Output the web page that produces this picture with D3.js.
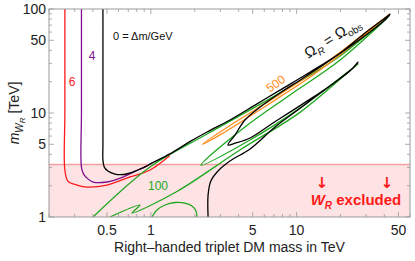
<!DOCTYPE html>
<html><head><meta charset="utf-8">
<script src="https://cdn.jsdelivr.net/npm/d3@7"></script>
<style>body{margin:0;background:#fff}svg{display:block}</style>
</head><body><svg id="c" width="415" height="261"></svg>
<script>
// ---- data (M in TeV, m_WR in TeV) ----
const xDomain = [0.2, 60];
const yDomain = [1, 100];
const xTickLabels = [0.5, 1, 5, 10, 50];
const yTickLabels = [1, 5, 10, 50, 100];
const wrLimit = 3.2;

const curveDm0 = [[0.469,100],[0.469,20],[0.469,5],[0.469,3.53],[0.48,3.0],[0.51,2.75],[0.56,2.6],[0.62,2.55],[0.70,2.62],[0.80,2.8],[0.92,3.05],[1.02,3.31],[1.35,4.04],[1.85,5.3],[2.43,6.57],[3.49,8.57],[5.18,11.9],[7.69,16.6],[12.4,24.8],[19.9,37.8],[29.5,58.8],[40.4,81.9],[43.7,89.5],
  [41.1,80.1],[31.9,60.1],[21.5,40.3],[14.5,27.7],[10.6,20.8],[7.69,15.6],[5.61,11.4],[4.42,8.57],[3.78,6.14],[3.38,4.92],
  [3.84,5.15],[4.79,5.75],[6.57,7.67],[9.01,10.2],[12.4,13.6],[16.9,18.2],[23.2,25.3],[26.4,30.9],
  [24.8,27.7],[18.4,19.9],[13.4,14.3],[9.75,10.2],[7.11,7.33],[4.79,4.51],[3.49,3.45],[2.89,2.77],[2.58,2.22],[2.47,1.63],[2.47,1]];
const curveDm4 = [[0.334,100],[0.334,10],[0.334,3.0],[0.345,2.6],[0.364,2.37],[0.401,2.17],[0.50,2.17],[0.644,2.42],[0.80,2.8],[0.92,3.05],[1.02,3.31]];
const curveDm6 = [[0.257,100],[0.257,10],[0.257,2.83],[0.270,2.2],[0.311,2.03],[0.364,1.94],[0.50,2.03],[0.685,2.37],[0.986,2.83],[1.35,3.9]];
const curveDm500 = [[43.7,89.5],[30,60],[20,38.5],[12.4,23.6],[7.69,15.2],[5,10.4],[3.6,7.8],[2.25,5.0],[3.0,6.2],[4.6,9.0],[7.69,14.3],[12.4,22.2],[20,36.5],[30,58],[43.7,89.5]];
const curveDm100a = [[0.401,1],[0.986,3.03],[2.43,6.28],[7.69,15.6],[19.9,35.3],[43.7,87.5],[19.9,32.3],[9.01,14.9],[4.42,7.33],[2.21,3.16],[4.79,5.5],[10.6,11.2],[26.4,29.6],[25.3,28.3],[10.6,10.2],[4.08,4.41],[1.5,1.75],[0.742,1.093],[0.842,1.304],[0.524,1]];
const curveDm100b = [[1.017,1],[1.101,1.168],[1.25,1.304],[1.462,1.379],[1.714,1.363],[1.915,1.276],[2.04,1.142],[2.07,1]];

// ---- layout ----
const svg = d3.select('#c');
const W = 415, H = 261;
const x = d3.scaleLog().domain(xDomain).range([49, 410]);
const y = d3.scaleLog().domain(yDomain).range([217, 9]);
const font = '"Liberation Sans", Arial, sans-serif';

svg.append('rect').attr('width', W).attr('height', H).attr('fill', '#fff');

// excluded band
svg.append('rect').attr('x', x(xDomain[0])).attr('y', y(wrLimit))
  .attr('width', x(xDomain[1]) - x(xDomain[0])).attr('height', y(1) - y(wrLimit))
  .attr('fill', '#fde3e3');
svg.append('line').attr('x1', x(xDomain[0])).attr('x2', x(xDomain[1]))
  .attr('y1', y(wrLimit)).attr('y2', y(wrLimit)).attr('stroke', '#f7a0a0').attr('stroke-width', 1.6);

svg.append('clipPath').attr('id', 'pc').append('rect')
  .attr('x', x(xDomain[0])).attr('y', y(yDomain[1]))
  .attr('width', x(xDomain[1]) - x(xDomain[0])).attr('height', y(yDomain[0]) - y(yDomain[1]));

const line = d3.line().x(d => x(d[0])).y(d => y(d[1])).curve(d3.curveCatmullRom.alpha(0.5));
const g = svg.append('g').attr('clip-path', 'url(#pc)');
function draw(data, color, w) {
  g.append('path').datum(data).attr('d', line).attr('fill', 'none')
    .attr('stroke', color).attr('stroke-width', w || 1.3).attr('stroke-linejoin', 'round');
}
draw(curveDm6, '#ff1a1a');
draw(curveDm4, '#7f0f8f');
draw(curveDm100a, '#1fa81f');
draw(curveDm100b, '#1fa81f');
draw(curveDm500, '#ff8c1a');
draw(curveDm0, '#000');

// frame + ticks
const frameColor = '#999';
svg.append('rect').attr('x', x(xDomain[0])).attr('y', y(yDomain[1]))
  .attr('width', x(xDomain[1]) - x(xDomain[0])).attr('height', y(yDomain[0]) - y(yDomain[1]))
  .attr('fill', 'none').attr('stroke', frameColor).attr('stroke-width', 1);

function logTicks(dom) {
  const out = [];
  for (let e = -1; e <= 2; e++) for (let k = 1; k <= 9; k++) {
    const v = +(k * Math.pow(10, e)).toPrecision(3);
    if (v >= dom[0] * 0.999 && v <= dom[1] * 1.001) out.push(v);
  }
  return out;
}
const tg = svg.append('g').attr('stroke', frameColor).attr('stroke-width', 0.8);
logTicks(xDomain).forEach(v => {
  const major = xTickLabels.includes(v);
  const L = major ? 5 : 3;
  const px = x(v);
  tg.append('line').attr('x1', px).attr('x2', px).attr('y1', y(1)).attr('y2', y(1) - L);
  tg.append('line').attr('x1', px).attr('x2', px).attr('y1', y(100)).attr('y2', y(100) + L);
});
logTicks(yDomain).forEach(v => {
  const major = yTickLabels.includes(v);
  const L = major ? 5 : 3;
  const py = y(v);
  tg.append('line').attr('y1', py).attr('y2', py).attr('x1', x(xDomain[0])).attr('x2', x(xDomain[0]) + L);
  tg.append('line').attr('y1', py).attr('y2', py).attr('x1', x(xDomain[1])).attr('x2', x(xDomain[1]) - L);
});
xTickLabels.forEach(v => {
  svg.append('text').attr('x', x(v)).attr('y', y(1) + 18).attr('text-anchor', 'middle')
    .attr('font-family', font).attr('font-size', 14).attr('fill', '#222').text(v);
});
yTickLabels.forEach(v => {
  svg.append('text').attr('x', x(xDomain[0]) - 3).attr('y', y(v) + 5).attr('text-anchor', 'end')
    .attr('font-family', font).attr('font-size', 14).attr('fill', '#222').text(v);
});

// axis titles
svg.append('text').attr('x', (x(xDomain[0]) + x(xDomain[1])) / 2).attr('y', 252)
  .attr('text-anchor', 'middle').attr('font-family', font).attr('font-size', 14).attr('fill', '#222')
  .text('Right\u2013handed triplet DM mass in TeV');
const yl = svg.append('text').attr('transform', `translate(19,${(y(1) + y(100)) / 2}) rotate(-90)`)
  .attr('text-anchor', 'middle').attr('font-family', font).attr('font-size', 14).attr('fill', '#222');
yl.append('tspan').attr('font-style', 'italic').text('m');
yl.append('tspan').attr('font-style', 'italic').attr('font-size', 10).attr('dy', 4).text('W');
yl.append('tspan').attr('font-style', 'italic').attr('font-size', 8).attr('dy', 2).text('R');
yl.append('tspan').attr('dy', -6).text(' [TeV]');

// annotations
function txt(px, py, s, color, size, opts) {
  opts = opts || {};
  const t = svg.append('text').attr('x', px).attr('y', py).attr('font-family', opts.family || font)
    .attr('font-size', size).attr('fill', color).attr('text-anchor', opts.anchor || 'middle');
  if (opts.rot) t.attr('transform', `rotate(${opts.rot},${px},${py})`);
  if (opts.bold) t.attr('font-weight', 'bold');
  return t.text(s);
}
txt(113, 40, '0 = \u0394m/GeV', '#111', 11, {anchor: 'start'});
txt(72, 86, '6', '#ff1a1a', 12);
txt(92, 60, '4', '#7f0f8f', 12);
txt(158, 190, '100', '#1fa81f', 12);
txt(278, 87, '500', '#ff8c1a', 12, {rot: -35});
const om = svg.append('text').attr('transform', 'translate(335,42) rotate(-32)')
  .attr('text-anchor', 'middle').attr('font-family', font).attr('font-size', 15).attr('fill', '#111');
om.append('tspan').text('\u03A9');
om.append('tspan').attr('font-style', 'italic').attr('font-size', 10).attr('dy', 4).text('R');
om.append('tspan').attr('dy', -4).text(' = \u03A9');
om.append('tspan').attr('font-size', 10).attr('dy', 4).text('obs');

txt(322, 188, '\u2193', '#ff1a1a', 15, {bold: true, family: '"DejaVu Sans", sans-serif'});
txt(387, 188, '\u2193', '#ff1a1a', 15, {bold: true, family: '"DejaVu Sans", sans-serif'});
const ex = svg.append('text').attr('x', 356).attr('y', 205).attr('text-anchor', 'middle')
  .attr('font-family', font).attr('font-size', 15).attr('font-weight', 'bold').attr('fill', '#ff1a1a');
ex.append('tspan').attr('font-style', 'italic').text('W');
ex.append('tspan').attr('font-style', 'italic').attr('font-size', 10).attr('dy', 4).text('R');
ex.append('tspan').attr('dy', -4).text(' excluded');
</script>
</body></html>
